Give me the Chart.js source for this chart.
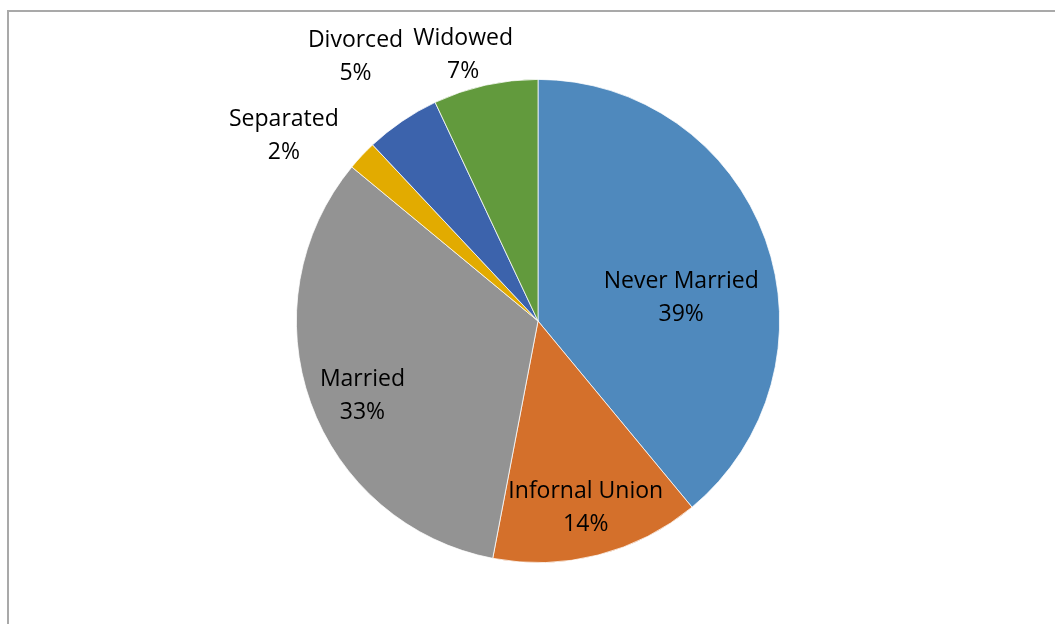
<!DOCTYPE html>
<html>
<head>
<meta charset="utf-8">
<script src="https://cdn.jsdelivr.net/npm/chart.js@4/dist/chart.umd.min.js"></script>
<style>
  html, body { margin: 0; padding: 0; background: #fff; }
  #wrap { position: relative; width: 1055px; height: 624px; overflow: hidden; }
  #frame {
    position: absolute; left: 7px; top: 10px; width: 1100px; height: 700px;
    border-top: 2px solid #a9a9a9; border-left: 2px solid #a9a9a9;
  }
  #chart { position: absolute; left: 0; top: 0; }
</style>
</head>
<body>
<div id="wrap">
  <div id="frame"></div>
  <canvas id="chart" width="1055" height="624"></canvas>
</div>
<script>
// 혼인 상태 분포 (파이)
const categories = ["Never Married", "Infornal Union", "Married", "Separated", "Divorced", "Widowed"];
const shares = [39, 14, 33, 2, 5, 7];
const sliceColors = ["#4f89bd", "#d4702b", "#939393", "#e2ab00", "#3c63ac", "#629a3d"];

// 라벨 위치: 조각 중심각 대비 각도 보정(도), 반지름 비율
const labelPlacement = [
  { da: 10.8, r: 0.60 },
  { da: 0.1, r: 0.80 },
  { da: -3.3, r: 0.79 },
  { da: -7.2, r: 1.30 },
  { da: -0.4, r: 1.33 },
  { da: -3.1, r: 1.145 },
];

const FONT = '23px "Open Sans", "Noto Sans", sans-serif';
const LINE_H = 33;

const pieLabels = {
  id: "pieLabels",
  afterDatasetsDraw(chart) {
    const ctx = chart.ctx;
    const meta = chart.getDatasetMeta(0);
    const total = shares.reduce((a, b) => a + b, 0);
    ctx.save();
    ctx.font = FONT;
    ctx.fillStyle = "#000";
    ctx.textAlign = "center";
    ctx.textBaseline = "middle";
    meta.data.forEach((arc, i) => {
      const p = labelPlacement[i];
      const mid = (arc.startAngle + arc.endAngle) / 2 + (p.da * Math.PI) / 180;
      const x = arc.x + Math.cos(mid) * arc.outerRadius * p.r;
      const y = arc.y + Math.sin(mid) * arc.outerRadius * p.r;
      const pct = Math.round((shares[i] / total) * 100) + "%";
      ctx.fillText(categories[i], x, y - LINE_H / 2);
      ctx.fillText(pct, x, y + LINE_H / 2);
    });
    ctx.restore();
  },
};

new Chart(document.getElementById("chart").getContext("2d"), {
  type: "pie",
  data: {
    labels: categories,
    datasets: [
      {
        data: shares,
        backgroundColor: sliceColors,
        borderColor: "#ffffff",
        borderWidth: 0.75,
      },
    ],
  },
  options: {
    responsive: false,
    animation: false,
    layout: { padding: { top: 79, bottom: 61, left: 296, right: 275 } },
    plugins: {
      legend: { display: false },
      tooltip: { enabled: false },
    },
  },
  plugins: [pieLabels],
});
</script>
</body>
</html>
